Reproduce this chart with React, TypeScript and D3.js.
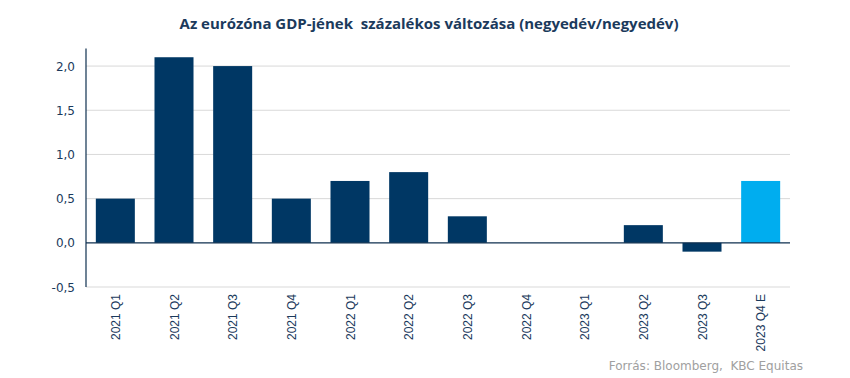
import React from "react";
import * as d3 from "d3";

const categories = ["2021 Q1","2021 Q2","2021 Q3","2021 Q4","2022 Q1","2022 Q2","2022 Q3","2022 Q4","2023 Q1","2023 Q2","2023 Q3","2023 Q4 E"];
const values = [0.5, 2.1, 2.0, 0.5, 0.7, 0.8, 0.3, 0, 0, 0.2, -0.1, 0.7];
const estimate = [false,false,false,false,false,false,false,false,false,false,false,true];
const yTicks = [-0.5, 0, 0.5, 1.0, 1.5, 2.0];
const title = "Az eurózóna GDP-jének  százalékos változása (negyedév/negyedév)";
const source = "Forrás: Bloomberg,  KBC Equitas";

const W = 850, H = 378;
const left = 86, right = 790, top = 48.4, bottom = 287;

export default function App() {
  const x = d3.scaleBand().domain(categories).range([left, right]).paddingInner(0.335).paddingOuter(0.1675);
  const y = d3.scaleLinear().domain([-0.5, 2.2]).range([bottom, top]);
  const fmt = (v: number) => d3.format(".1f")(v).replace(".", ",").replace("−", "-");
  return (
    <svg width={W} height={H} style={{ position: "absolute", left: 0, top: 0, background: "#fff" }}>
      <text x={429} y={29} textAnchor="middle" fontFamily="'Open Sans', sans-serif" fontWeight={700} fontSize={15} fill="#1b3a5c" style={{ whiteSpace: "pre" }}>{title}</text>
      {yTicks.filter(t => t !== 0).map(t => (
        <line key={t} x1={left} x2={right} y1={y(t)} y2={y(t)} stroke="#d9d9d9" strokeWidth={1} />
      ))}
      {categories.map((c, i) => (
        <rect key={c} x={x(c)} width={x.bandwidth()} y={y(Math.max(0, values[i]))}
          height={Math.abs(y(values[i]) - y(0))} fill={estimate[i] ? "#00adef" : "#003764"} />
      ))}
      <line x1={left} x2={right} y1={y(0)} y2={y(0)} stroke="#0e2f4f" strokeWidth={1.2} />
      <line x1={left} x2={left} y1={top} y2={bottom} stroke="#0e2f4f" strokeWidth={1.2} />
      {yTicks.map(t => (
        <text key={t} x={75} y={y(t) + 4.5} textAnchor="end" fontFamily="'DejaVu Sans', Verdana, sans-serif" fontSize={12} fill="#1b3a5c">{fmt(t)}</text>
      ))}
      {categories.map(c => {
        const cx = x(c)! + x.bandwidth() / 2;
        return (
          <text key={c} transform={`translate(${cx + 4.5},294) rotate(-90)`} textAnchor="end"
            fontFamily="'Liberation Sans', Arial, sans-serif" fontSize={12} fill="#1b3a5c">{c}</text>
        );
      })}
      <text x={803} y={370} textAnchor="end" fontFamily="'DejaVu Sans', Verdana, sans-serif" fontSize={12} fill="#a0a0a0" style={{ whiteSpace: "pre" }}>{source}</text>
    </svg>
  );
}
